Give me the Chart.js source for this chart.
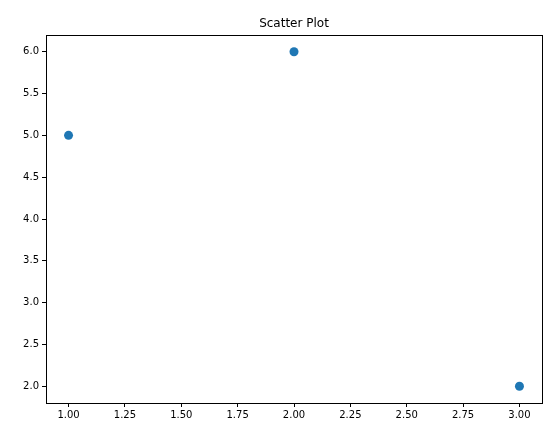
<!DOCTYPE html>
<html>
<head>
<style>html,body{margin:0;padding:0;background:#fff}#wrap{width:553px;height:432px}</style>
<script src="https://cdn.jsdelivr.net/npm/chart.js@4"></script>
</head>
<body>
<div id="wrap"><canvas id="myChart"></canvas></div>
<script>
// data
const xValues = [1, 2, 3];
const yValues = [5, 6, 2];
const xTicks = [1.0, 1.25, 1.5, 1.75, 2.0, 2.25, 2.5, 2.75, 3.0];
const yTicks = [2.0, 2.5, 3.0, 3.5, 4.0, 4.5, 5.0, 5.5, 6.0];
const chartTitle = 'Scatter Plot';

const font = { family: 'DejaVu Sans', size: 10 };

// frame + title
const boxPlugin = {
  id: 'box',
  afterDraw(chart) {
    const { ctx, chartArea: a } = chart;
    ctx.save();
    ctx.strokeStyle = '#000';
    ctx.lineWidth = 1;
    ctx.strokeRect(a.left + 0.5, a.top + 0.5, a.right - a.left, a.bottom - a.top);
    ctx.fillStyle = '#000';
    ctx.font = '12px DejaVu Sans';
    ctx.textAlign = 'center';
    ctx.textBaseline = 'alphabetic';
    ctx.fillText(chartTitle, (a.left + a.right) / 2, a.top - 8);
    ctx.restore();
  }
};

const config = {
  type: 'scatter',
  data: {
    datasets: [{
      data: xValues.map((x, i) => ({ x: x, y: yValues[i] })),
      backgroundColor: '#1f77b4',
      borderWidth: 0,
      pointRadius: 4.5
    }]
  },
  options: {
    animation: false,
    responsive: true,
    maintainAspectRatio: false,
    layout: { padding: { top: 35, right: 11, left: 0, bottom: 0 } },
    plugins: { legend: { display: false }, tooltip: { enabled: false } },
    scales: {
      x: {
        type: 'linear', min: 0.9, max: 3.1,
        afterBuildTicks: ax => { ax.ticks = xTicks.map(v => ({ value: v })); },
        afterFit: ax => { ax.height = 29; },
        grid: { drawOnChartArea: false, color: '#000', tickLength: 4 },
        border: { display: false },
        ticks: { color: '#000', font: font, padding: 2, maxRotation: 0,
          callback: v => v.toFixed(2) }
      },
      y: {
        type: 'linear', min: 1.8, max: 6.2,
        afterBuildTicks: ax => { ax.ticks = yTicks.map(v => ({ value: v })); },
        afterFit: ax => { ax.width = 46; },
        grid: { drawOnChartArea: false, color: '#000', tickLength: 4 },
        border: { display: false },
        ticks: { color: '#000', font: font, padding: 3,
          callback: v => v.toFixed(1) }
      }
    }
  },
  plugins: [boxPlugin]
};

new Chart(document.getElementById('myChart'), config);
</script>
</body>
</html>
